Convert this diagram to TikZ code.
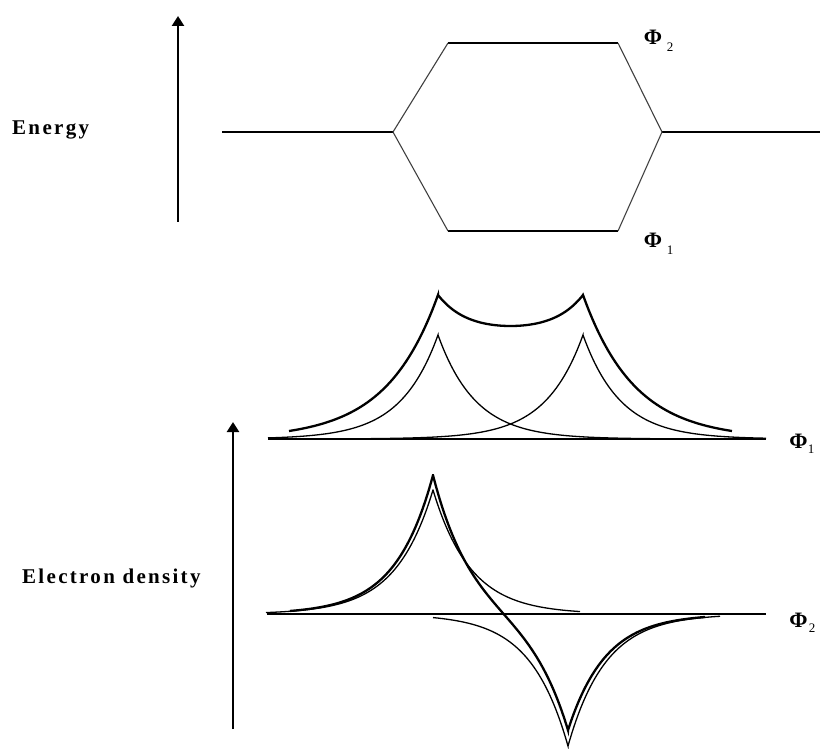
\documentclass[tikz,border=0pt]{standalone}
\usepackage{fontspec}
\setmainfont{Liberation Serif}
\usetikzlibrary{arrows.meta}
\begin{document}
\begin{tikzpicture}[x=1pt,y=-1pt,
  thinline/.style={line width=1.3pt},
  thickline/.style={line width=2.3pt},
  lvl/.style={line width=1.2pt},
  slant/.style={line width=1.1pt, draw=black!75},
  axisarrow/.style={line width=2.4pt,-{Triangle[width=12pt,length=10pt]}},
  lbl/.style={inner sep=0pt, font=\fontsize{21}{21}\selectfont\bfseries\addfontfeature{LetterSpace=11}},
  phi/.style={inner sep=0pt, font=\fontsize{22}{22}\selectfont\bfseries},
  sub/.style={inner sep=0pt, font=\fontsize{13}{13}\selectfont},
  declare function={orb(\d)=exp(-0.0267*abs(\d));}
]
\useasboundingbox (0,0) rectangle (820,749);

% ---------- Energy diagram ----------
\coordinate (eL) at (222,132);
\coordinate (eA) at (393,132);
\coordinate (eT1) at (448,43);
\coordinate (eT2) at (618,43);
\coordinate (eB) at (662,132);
\coordinate (eR) at (820,132);
\coordinate (eD1) at (448,231);
\coordinate (eD2) at (618,231);
\draw[lvl] (eL) -- (eA);
\draw[lvl] (eB) -- (eR);
\draw[lvl] (eT1) -- (eT2);
\draw[lvl] (eD1) -- (eD2);
\draw[slant] (eA) -- (eT1);
\draw[slant] (eA) -- (eD1);
\draw[slant] (eT2) -- (eB);
\draw[slant] (eD2) -- (eB);

\coordinate (a1s) at (178,222);
\coordinate (a1e) at (178,16);
\draw[axisarrow] (a1s) -- (a1e);
\node[lbl, anchor=west] (energy) at (12,130) {Energy};

\node[phi] (p2top) at (653,37) {Φ};
\node[sub] (s2top) at (670,47) {2};
\node[phi] (p1top) at (653,240.5) {Φ};
\node[sub] (s1top) at (670,250) {1};

% ---------- Electron density ----------
\coordinate (a2s) at (233,729);
\coordinate (a2e) at (233,422);
\draw[axisarrow] (a2s) -- (a2e);
\node[lbl, anchor=west] (edens) at (22,578) {Electron density};

% Phi_1 (bonding)
\coordinate (b1s) at (268,439);
\coordinate (b1e) at (766,439);
\draw[thinline] (b1s) -- (b1e);
\draw[thinline] plot[domain=268:438,samples=80] (\x,{439-104*orb(\x-438)})
  -- plot[domain=438:650,samples=80] (\x,{439-104*orb(\x-438)});
\draw[thinline] plot[domain=371:583,samples=80] (\x,{439-104*orb(\x-583)})
  -- plot[domain=583:766,samples=80] (\x,{439-104*orb(\x-583)});
\draw[thickline] plot[domain=289:438,samples=80] (\x,{439-144*exp(-0.0194*(438-\x))})
  -- plot[domain=438:583,samples=80] (\x,{439-113-31*(cosh(0.035*(\x-510.5))-1)/(cosh(0.035*72.5)-1)})
  -- plot[domain=583:732,samples=80] (\x,{439-144*exp(-0.0194*(\x-583))});
\node[phi] (p1mid) at (798.5,441) {Φ};
\node[sub] (s1mid) at (811,449) {1};

% Phi_2 (antibonding)
\coordinate (b2s) at (267,614);
\coordinate (b2e) at (766,614);
\draw[thinline] (b2s) -- (b2e);
\draw[thinline] plot[domain=266:433,samples=80] (\x,{614-124*orb(\x-433)})
  -- plot[domain=433:580,samples=80] (\x,{614-124*orb(\x-433)});
\draw[thinline] plot[domain=433:568,samples=80] (\x,{614+132*orb(\x-568)})
  -- plot[domain=568:720,samples=80] (\x,{614+132*orb(\x-568)});
\draw[thickline] plot[domain=290:433,samples=80] (\x,{614-142*orb(\x-433)+120*orb(\x-568)})
  -- plot[domain=433:568,samples=80] (\x,{614-142*orb(\x-433)+120*orb(\x-568)})
  -- plot[domain=568:705,samples=80] (\x,{614-142*orb(\x-433)+120*orb(\x-568)});
\node[phi] (p2bot) at (798.5,620) {Φ};
\node[sub] (s2bot) at (812,628) {2};
\end{tikzpicture}
\end{document}
